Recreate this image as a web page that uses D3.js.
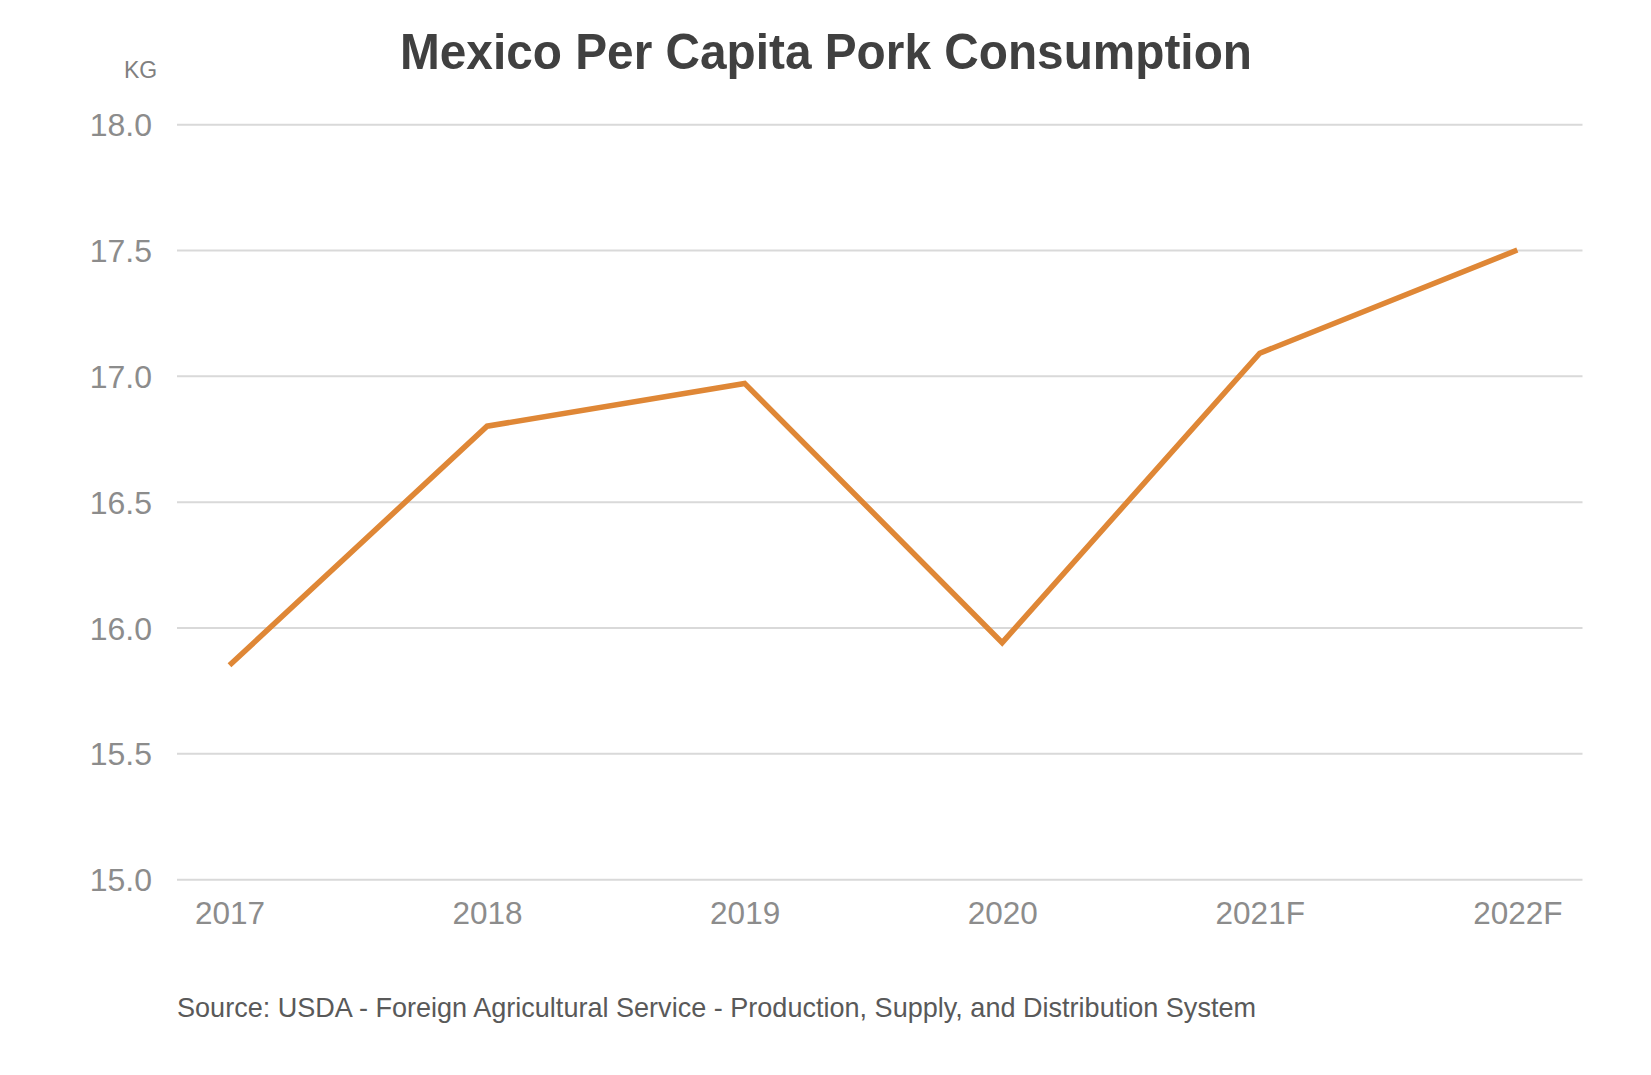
<!DOCTYPE html>
<html>
<head>
<meta charset="utf-8">
<script src="https://cdn.jsdelivr.net/npm/d3@7"></script>
<style>
  html, body { margin: 0; padding: 0; background: #ffffff; }
  svg { display: block; }
  text { font-family: "Liberation Sans", Arial, Helvetica, sans-serif; }
</style>
</head>
<body>
<svg id="chart" width="1651" height="1075"></svg>
<script>
const categories = ["2017", "2018", "2019", "2020", "2021F", "2022F"];
const consumption = [15.85, 16.80, 16.97, 15.94, 17.09, 17.50];
const yTicks = [15.0, 15.5, 16.0, 16.5, 17.0, 17.5, 18.0];
const titleText = "Mexico Per Capita Pork Consumption";
const unitText = "KG";
const sourceText = "Source: USDA - Foreign Agricultural Service - Production, Supply, and Distribution System";

const svg = d3.select("#chart");
const W = 1651, H = 1075;
svg.append("rect").attr("width", W).attr("height", H).attr("fill", "#ffffff");

const gridLeft = 177, gridRight = 1582.5;
const y = d3.scaleLinear().domain([15, 18]).range([879.2, 124.2]);
const x = d3.scalePoint().domain(categories).range([229.5, 1517.3]);

// gridlines + y labels
const yAxis = d3.axisLeft(y).tickValues(yTicks)
  .tickSize(-(gridRight - gridLeft)).tickFormat(d3.format(".1f")).tickPadding(25);
const gy = svg.append("g").attr("transform", `translate(${gridLeft},0)`).call(yAxis);
gy.select(".domain").remove();
gy.selectAll(".tick line").attr("stroke", "#d9d9d9").attr("stroke-width", 2);
gy.selectAll(".tick text")
  .attr("fill", "#8c8c8c").attr("font-size", 32)
  .attr("font-family", "Liberation Sans, Arial, sans-serif")
  .attr("dy", "0.36em");

// x axis labels
const xAxis = d3.axisBottom(x).tickSize(0).tickPadding(0);
const gx = svg.append("g").attr("transform", `translate(0,${923.5})`).call(xAxis);
gx.select(".domain").remove();
gx.selectAll(".tick text")
  .attr("fill", "#8c8c8c").attr("font-size", 31.5)
  .attr("font-family", "Liberation Sans, Arial, sans-serif")
  .attr("dy", 0).attr("y", 0);

// line
const line = d3.line().x((d, i) => x(categories[i])).y(d => y(d));
svg.append("path").datum(consumption)
  .attr("d", line)
  .attr("fill", "none")
  .attr("stroke", "#df8736")
  .attr("stroke-width", 5.5)
  .attr("stroke-linejoin", "miter");

// title
svg.append("text")
  .attr("x", 826).attr("y", 68.5)
  .attr("text-anchor", "middle")
  .attr("font-size", 50).attr("font-weight", "bold")
  .attr("fill", "#404040")
  .attr("textLength", 852).attr("lengthAdjust", "spacingAndGlyphs")
  .text(titleText);

// unit label
svg.append("text")
  .attr("x", 124).attr("y", 78)
  .attr("font-size", 23)
  .attr("fill", "#808080")
  .text(unitText);

// source
svg.append("text")
  .attr("x", 177).attr("y", 1017)
  .attr("font-size", 28)
  .attr("fill", "#595959")
  .attr("textLength", 1079).attr("lengthAdjust", "spacingAndGlyphs")
  .text(sourceText);
</script>
</body>
</html>
